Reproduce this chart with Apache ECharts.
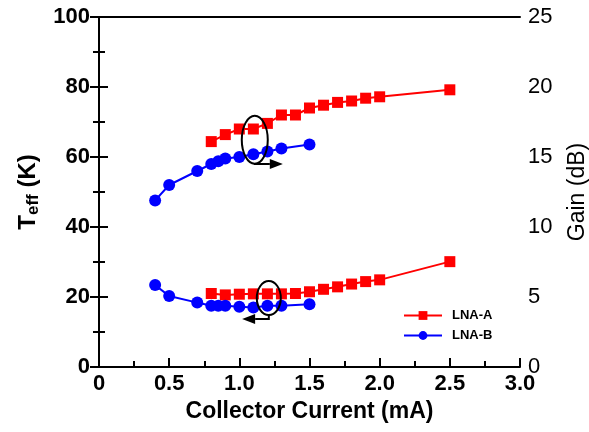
<!DOCTYPE html>
<html>
<head>
<meta charset="utf-8">
<script src="https://cdn.jsdelivr.net/npm/echarts@6/dist/echarts.min.js"></script>
<style>
  html, body { margin: 0; padding: 0; background: #fff; }
  #main { width: 589px; height: 432px; }
</style>
</head>
<body>
<div id="main"></div>
<script>
// LNA-A (red squares)
var currentA = [0.8, 0.9, 1.0, 1.1, 1.2, 1.3, 1.4, 1.5, 1.6, 1.7, 1.8, 1.9, 2.0, 2.5];
var teffA = [21.0, 20.6, 20.8, 20.9, 20.9, 20.9, 21.0, 21.5, 22.2, 22.9, 23.7, 24.4, 24.9, 30.1];
var gainA = [16.1, 16.6, 17.0, 17.0, 17.4, 18.0, 18.0, 18.5, 18.7, 18.9, 19.0, 19.2, 19.3, 19.8];

// LNA-B (blue circles)
var currentB = [0.4, 0.5, 0.7, 0.8, 0.85, 0.9, 1.0, 1.1, 1.2, 1.3, 1.5];
var teffB = [23.4, 20.3, 18.4, 17.5, 17.5, 17.5, 17.2, 17.0, 17.5, 17.5, 17.9];
var gainB = [11.9, 13.0, 14.0, 14.5, 14.7, 14.9, 15.0, 15.2, 15.4, 15.6, 15.9];

function pairs(xs, ys) {
  return xs.map(function (x, i) { return [x, ys[i]]; });
}

var font = 'Liberation Sans, Arial, sans-serif';
var red = '#ff0000';
var blue = '#0000ff';

var myChart = echarts.init(document.getElementById('main'));

var option = {
  animation: false,
  backgroundColor: '#fff',
  grid: { left: 99, right: 69, top: 17, bottom: 65, outerBoundsMode: 'none', containLabel: false },
  legend: {
    left: 398,
    top: 304,
    orient: 'vertical',
    itemWidth: 38,
    itemHeight: 11,
    itemGap: 7,
    textStyle: { fontFamily: font, fontSize: 13, fontWeight: 'bold', color: '#000', padding: [0, 0, 0, 5] },
    data: ['LNA-A', 'LNA-B']
  },
  xAxis: [{
    type: 'value',
    min: 0, max: 3, interval: 0.5,
    name: 'Collector Current (mA)',
    nameLocation: 'middle',
    nameGap: 30,
    nameTextStyle: { fontFamily: font, fontSize: 23, fontWeight: 'bold', color: '#000' },
    axisLine: { lineStyle: { color: '#000', width: 2 } },
    axisTick: { inside: true, length: 9, lineStyle: { color: '#000', width: 2 } },
    minorTick: { show: true, splitNumber: 2, length: 6, lineStyle: { color: '#000', width: 2 } },
    splitLine: { show: false },
    axisLabel: {
      margin: 6,
      fontFamily: font, fontSize: 22, fontWeight: 'bold', color: '#000',
      formatter: function (v) { return v === 0 ? '0' : v.toFixed(1); }
    }
  }, {
    type: 'value',
    position: 'top',
    min: 0, max: 3,
    axisLine: { onZero: false, lineStyle: { color: '#000', width: 2 } },
    axisTick: { show: false },
    axisLabel: { show: false },
    splitLine: { show: false }
  }],
  yAxis: [{
    type: 'value',
    min: 0, max: 100, interval: 20,
    name: '{t|T}{s|eff}{t| (K)}',
    nameLocation: 'middle',
    nameGap: 57,
    nameTextStyle: {
      rich: {
        t: { fontFamily: font, fontSize: 24, fontWeight: 'bold', color: '#000' },
        s: { fontFamily: font, fontSize: 17, fontWeight: 'bold', color: '#000', verticalAlign: 'bottom', padding: [10, 0, 0, 0] }
      }
    },
    axisLine: { show: true, lineStyle: { color: '#000', width: 2 } },
    axisTick: { inside: true, length: 9, lineStyle: { color: '#000', width: 2 } },
    minorTick: { show: true, splitNumber: 2, length: 6, lineStyle: { color: '#000', width: 2 } },
    splitLine: { show: false },
    axisLabel: { margin: 9, fontFamily: font, fontSize: 22, fontWeight: 'bold', color: '#000' }
  }, {
    type: 'value',
    min: 0, max: 25, interval: 5,
    position: 'right',
    name: 'Gain (dB)',
    nameLocation: 'middle',
    nameGap: 46,
    nameTextStyle: { fontFamily: font, fontSize: 23, color: '#000' },
    axisLine: { show: true, lineStyle: { color: '#000', width: 2 } },
    axisTick: { inside: true, length: 9, lineStyle: { color: '#000', width: 2 } },
    minorTick: { show: true, splitNumber: 2, length: 6, lineStyle: { color: '#000', width: 2 } },
    splitLine: { show: false },
    axisLabel: { margin: 8, fontFamily: font, fontSize: 22, color: '#000' }
  }],
  series: [{
    name: 'LNA-A', type: 'line', yAxisIndex: 0,
    data: pairs(currentA, teffA),
    symbol: 'rect', symbolSize: 11,
    itemStyle: { color: red }, lineStyle: { color: red, width: 2 }
  }, {
    name: 'LNA-A', type: 'line', yAxisIndex: 1,
    data: pairs(currentA, gainA),
    symbol: 'rect', symbolSize: 11,
    itemStyle: { color: red }, lineStyle: { color: red, width: 2 }
  }, {
    name: 'LNA-B', type: 'line', yAxisIndex: 0,
    data: pairs(currentB, teffB),
    symbol: 'circle', symbolSize: 12,
    itemStyle: { color: blue }, lineStyle: { color: blue, width: 2 }
  }, {
    name: 'LNA-B', type: 'line', yAxisIndex: 1,
    data: pairs(currentB, gainB),
    symbol: 'circle', symbolSize: 12,
    itemStyle: { color: blue }, lineStyle: { color: blue, width: 2 }
  }]
};

myChart.setOption(option);

// ellipse + arrow annotations, placed in data coordinates of the left axis
function px(x, y) {
  return myChart.convertToPixel({ xAxisIndex: 0, yAxisIndex: 0 }, [x, y]);
}

function marker(cx, cy, rxPx, ryPx, arrowY, tipX, dir) {
  var c = px(cx, cy);
  var a = px(cx, arrowY);
  var t = px(tipX, arrowY);
  var head = 13 * dir;
  return [{
    type: 'ellipse',
    shape: { cx: c[0], cy: c[1], rx: rxPx, ry: ryPx },
    style: { fill: 'none', stroke: '#000', lineWidth: 2 },
    z: 100
  }, {
    type: 'polyline',
    shape: { points: [[c[0], c[1] + ryPx], [a[0], a[1]], [t[0] - head, t[1]]] },
    style: { stroke: '#000', lineWidth: 2, fill: 'none' },
    z: 100
  }, {
    type: 'polygon',
    shape: { points: [[t[0], t[1]], [t[0] - head, t[1] - 5], [t[0] - head, t[1] + 5]] },
    style: { fill: '#000' },
    z: 100
  }];
}

myChart.setOption({
  graphic: marker(1.11, 64.9, 13, 24, 58.0, 1.31, 1)
    .concat(marker(1.21, 19.7, 12, 17, 13.7, 1.02, -1))
});
</script>
</body>
</html>
